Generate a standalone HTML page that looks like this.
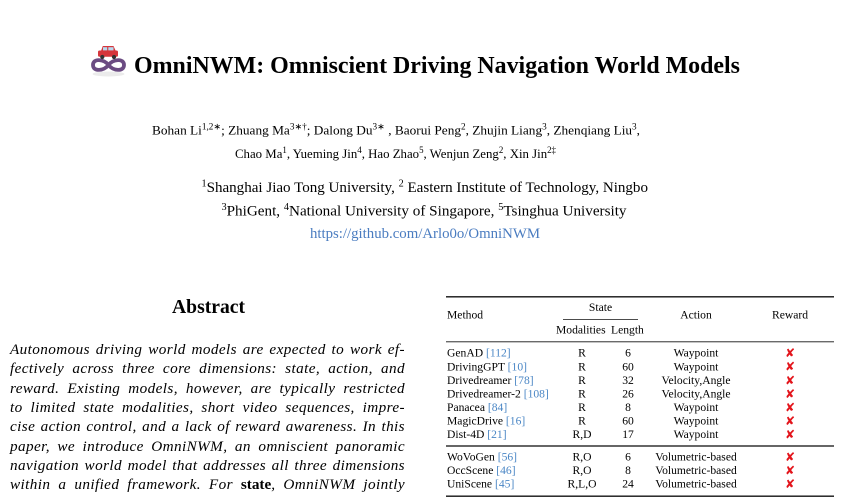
<!DOCTYPE html>
<html><head><meta charset="utf-8"><style>
html,body{margin:0;padding:0;background:#fff;}
body{width:850px;height:499px;position:relative;overflow:hidden;}
svg{position:absolute;left:0;top:0;}
.abs{position:absolute;left:10px;top:340.2px;width:395px;font-family:"Liberation Serif",serif;font-style:italic;font-size:15.2px;letter-spacing:0.4px;line-height:19.3px;color:#000;}
.abs div{text-align:justify;text-align-last:justify;height:19.3px;overflow:visible;}
.abs b{font-style:normal;letter-spacing:0;}
</style></head><body>
<svg width="850" height="499" viewBox="0 0 850 499" xmlns="http://www.w3.org/2000/svg" font-family="Liberation Serif, serif">
  <!-- logo -->
  <ellipse cx="108.5" cy="74" rx="16" ry="2.5" fill="#ddd" opacity="0.6"/>
  <path d="M108.5,65 C104,59 93,58 93,65 C93,72 104,71 108.5,65 C113,59 124,58 124,65 C124,72 113,71 108.5,65 Z" fill="none" stroke="#6b4b82" stroke-width="3.8"/>
  <rect x="98" y="50.5" width="20" height="6.2" rx="1.5" fill="#d6363c"/>
  <path d="M101,51 L102.8,46 L113.5,46 L115.8,51 Z" fill="#d6363c"/>
  <rect x="103" y="47.2" width="4.2" height="3.2" fill="#b7d9ee"/>
  <rect x="108.3" y="47.2" width="5.2" height="3.2" fill="#b7d9ee"/>
  <circle cx="102.3" cy="57" r="2.1" fill="#333"/>
  <circle cx="114" cy="57" r="2.1" fill="#333"/>

  <!-- title -->
  <text x="134" y="73" font-size="23.8" font-weight="bold" textLength="606" lengthAdjust="spacingAndGlyphs">OmniNWM: Omniscient Driving Navigation World Models</text>

  <!-- authors -->
  <g fill="#000">
    <text x="152" y="134.5" font-size="13" textLength="488" lengthAdjust="spacingAndGlyphs">Bohan Li<tspan dy="-5" font-size="9">1,2∗</tspan><tspan dy="5">; Zhuang Ma</tspan><tspan dy="-5" font-size="9">3∗†</tspan><tspan dy="5">; Dalong Du</tspan><tspan dy="-5" font-size="9">3∗</tspan><tspan dy="5"> , Baorui Peng</tspan><tspan dy="-5" font-size="9">2</tspan><tspan dy="5">, Zhujin Liang</tspan><tspan dy="-5" font-size="9">3</tspan><tspan dy="5">, Zhenqiang Liu</tspan><tspan dy="-5" font-size="9">3</tspan><tspan dy="5">,</tspan></text>
    <text x="235" y="158" font-size="13" textLength="321" lengthAdjust="spacingAndGlyphs">Chao Ma<tspan dy="-5" font-size="9">1</tspan><tspan dy="5">, Yueming Jin</tspan><tspan dy="-5" font-size="9">4</tspan><tspan dy="5">, Hao Zhao</tspan><tspan dy="-5" font-size="9">5</tspan><tspan dy="5">, Wenjun Zeng</tspan><tspan dy="-5" font-size="9">2</tspan><tspan dy="5">, Xin Jin</tspan><tspan dy="-5" font-size="9">2‡</tspan></text>
    <text x="201.5" y="192" font-size="14.8" textLength="446.5" lengthAdjust="spacingAndGlyphs"><tspan dy="-5.5" font-size="10">1</tspan><tspan dy="5.5">Shanghai Jiao Tong University, </tspan><tspan dy="-5.5" font-size="10">2</tspan><tspan dy="5.5"> Eastern Institute of Technology, Ningbo</tspan></text>
    <text x="221.5" y="215.5" font-size="14.8" textLength="405" lengthAdjust="spacingAndGlyphs"><tspan dy="-5.5" font-size="10">3</tspan><tspan dy="5.5">PhiGent, </tspan><tspan dy="-5.5" font-size="10">4</tspan><tspan dy="5.5">National University of Singapore, </tspan><tspan dy="-5.5" font-size="10">5</tspan><tspan dy="5.5">Tsinghua University</tspan></text>
    <text x="310" y="238" font-size="14.8" fill="#4a7cc0" textLength="230" lengthAdjust="spacingAndGlyphs">https://github.com/Arlo0o/OmniNWM</text>
  </g>

  <!-- Abstract heading -->
  <text x="172" y="313" font-size="19.6" font-weight="bold" textLength="73" lengthAdjust="spacingAndGlyphs">Abstract</text>

  <!-- table -->
  <g stroke="#111" fill="none">
    <line x1="446" y1="296.8" x2="834" y2="296.8" stroke-width="1.3"/>
    <line x1="563" y1="319.6" x2="638" y2="319.6" stroke-width="0.8"/>
    <line x1="446" y1="341.8" x2="834" y2="341.8" stroke-width="0.9"/>
    <line x1="446" y1="446" x2="834" y2="446" stroke-width="2" stroke="#666"/>
    <line x1="446" y1="496.2" x2="834" y2="496.2" stroke-width="1.3"/>
  </g>
  <g font-size="11.6" fill="#000">
    <text x="447" y="318.5">Method</text>
    <text x="600.5" y="311" text-anchor="middle">State</text>
    <text x="556" y="333.5">Modalities</text>
    <text x="611" y="333.5">Length</text>
    <text x="696" y="318.5" text-anchor="middle">Action</text>
    <text x="790" y="318.5" text-anchor="middle">Reward</text>
  </g>
  <g font-size="11.6" fill="#000">
    <text x="447" y="356.7">GenAD <tspan fill="#4a86c5">[112]</tspan></text>
    <text x="447" y="370.3">DrivingGPT <tspan fill="#4a86c5">[10]</tspan></text>
    <text x="447" y="384">Drivedreamer <tspan fill="#4a86c5">[78]</tspan></text>
    <text x="447" y="397.5">Drivedreamer-2 <tspan fill="#4a86c5">[108]</tspan></text>
    <text x="447" y="411">Panacea <tspan fill="#4a86c5">[84]</tspan></text>
    <text x="447" y="424.5">MagicDrive <tspan fill="#4a86c5">[16]</tspan></text>
    <text x="447" y="438">Dist-4D <tspan fill="#4a86c5">[21]</tspan></text>
    <text x="447" y="460.7">WoVoGen <tspan fill="#4a86c5">[56]</tspan></text>
    <text x="447" y="474.2">OccScene <tspan fill="#4a86c5">[46]</tspan></text>
    <text x="447" y="487.7">UniScene <tspan fill="#4a86c5">[45]</tspan></text>
  </g>
  <g font-size="11.6" fill="#000" text-anchor="middle">
    <text x="582" y="356.7">R</text><text x="628" y="356.7">6</text><text x="696" y="356.7">Waypoint</text>
    <text x="582" y="370.3">R</text><text x="628" y="370.3">60</text><text x="696" y="370.3">Waypoint</text>
    <text x="582" y="384">R</text><text x="628" y="384">32</text><text x="696" y="384">Velocity,Angle</text>
    <text x="582" y="397.5">R</text><text x="628" y="397.5">26</text><text x="696" y="397.5">Velocity,Angle</text>
    <text x="582" y="411">R</text><text x="628" y="411">8</text><text x="696" y="411">Waypoint</text>
    <text x="582" y="424.5">R</text><text x="628" y="424.5">60</text><text x="696" y="424.5">Waypoint</text>
    <text x="582" y="438">R,D</text><text x="628" y="438">17</text><text x="696" y="438">Waypoint</text>
    <text x="582" y="460.7">R,O</text><text x="628" y="460.7">6</text><text x="696" y="460.7">Volumetric-based</text>
    <text x="582" y="474.2">R,O</text><text x="628" y="474.2">8</text><text x="696" y="474.2">Volumetric-based</text>
    <text x="582" y="487.7">R,L,O</text><text x="628" y="487.7">24</text><text x="696" y="487.7">Volumetric-based</text>
  </g>
  <g font-family="DejaVu Sans, sans-serif" font-size="12" fill="#e3141b" text-anchor="middle">
    <text x="790" y="357">✘</text>
    <text x="790" y="370.6">✘</text>
    <text x="790" y="384.3">✘</text>
    <text x="790" y="397.8">✘</text>
    <text x="790" y="411.3">✘</text>
    <text x="790" y="424.8">✘</text>
    <text x="790" y="438.3">✘</text>
    <text x="790" y="461">✘</text>
    <text x="790" y="474.5">✘</text>
    <text x="790" y="488">✘</text>
  </g>
</svg>
<div class="abs">
<div>Autonomous driving world models are expected to work ef-</div>
<div>fectively across three core dimensions: state, action, and</div>
<div>reward. Existing models, however, are typically restricted</div>
<div>to limited state modalities, short video sequences, impre-</div>
<div>cise action control, and a lack of reward awareness. In this</div>
<div>paper, we introduce OmniNWM, an omniscient panoramic</div>
<div>navigation world model that addresses all three dimensions</div>
<div>within a unified framework. For <b>state</b>, OmniNWM jointly</div>
</div>
</body></html>
